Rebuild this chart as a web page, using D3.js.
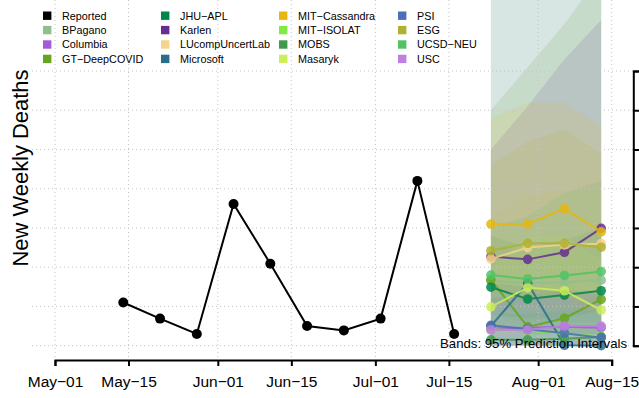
<!DOCTYPE html>
<html><head><meta charset="utf-8">
<script src="https://cdn.jsdelivr.net/npm/d3@7"></script>
<style>body{margin:0;background:#fff}svg{display:block;font-family:"Liberation Sans",Arial,sans-serif}</style>
</head><body><svg id="c" width="639" height="398"></svg>
<script>
// ---- data ----
const reportedDates = ["2022-05-14","2022-05-21","2022-05-28","2022-06-04","2022-06-11","2022-06-18","2022-06-25","2022-07-02","2022-07-09","2022-07-16"];
const reportedValues = [11.0, 6.9, 3.0, 36.1, 20.9, 5.0, 3.9, 6.9, 42.0, 3.0];
const forecastDates = ["2022-07-23","2022-07-30","2022-08-06","2022-08-13"];
const models = ["BPagano","Columbia","GT\u2212DeepCOVID","JHU\u2212APL","Karlen","LUcompUncertLab","Microsoft","MIT\u2212Cassandra","MIT\u2212ISOLAT","MOBS","Masaryk","PSI","ESG","UCSD\u2212NEU","USC"];
const modelColors = ["#8fbf8f","#a55bd8","#66a61e","#00884a","#662e91","#f5d38a","#2b6e8c","#e6b710","#7fec45","#409a4e","#cdee5a","#4a70b6","#afb132","#50c464","#c080e0"];
const medians = [
  [16.5,16.0,16.2,16.7],
  [4.4,4.6,4.8,4.6],
  [16.8,4.8,7.0,11.8],
  [14.9,11.9,12.9,14.0],
  [22.7,22.0,23.8,29.9],
  [22.1,25.0,25.7,26.0],
  [5.0,15.9,0.1,0.0],
  [31.0,31.0,34.9,29.0],
  [4.2,3.8,3.0,2.4],
  [1.5,1.5,1.8,2.2],
  [9.9,14.8,14.0,9.1],
  [5.2,4.2,3.2,2.0],
  [24.2,26.1,26.1,25.1],
  [18.0,17.0,17.9,18.9],
  [4.0,4.0,5.0,5.0]
];
const lowers = [
  [5,4,3,2],[0,0,0,0],[2,0,0,1],[5,3,3,3],[8,7,7,9],[12,12,12,12],[0,0,0,0],
  [14,12,12,8],[0,0,0,0],[0,0,0,0],[2,4,3,1],[0,0,0,0],[10,10,9,8],[8,6,6,6],[0,0,0,0]
];
const uppers = [
  [140,160,180,200],[12,13,14,14],[60,71,82,95],[28,25,27,30],[50,61,73,83],[33,38,40,42],[130,150,170,190],
  [58,62,62,56],[10,10,10,10],[8,8,9,9],[20,28,28,22],[16,15,14,13],[46,52,55,49],[30,33,39,42],[12,12,14,14]
];
const xTickDates = ["2022-05-01","2022-05-15","2022-06-01","2022-06-15","2022-07-01","2022-07-15","2022-08-01","2022-08-15"];
const yTickValues = [0,10,20,30,40,50,60,70];

// ---- drawing ----
const svg = d3.select("#c");
const P = d3.utcParse("%Y-%m-%d");
const x = d3.scaleUtc().domain([P("2022-05-01"), P("2022-08-15")]).range([55, 611.7]);
const y = d3.scaleLinear().domain([0, 70]).range([345.7, 71]);
const plotL = 32, plotR = 633.3, plotB = 360, plotT = 0;

svg.append("defs").append("clipPath").attr("id","clip")
  .append("rect").attr("x",plotL).attr("y",plotT).attr("width",plotR-plotL).attr("height",plotB-plotT);

// bands
const fd = forecastDates.map(P);
const gB = svg.append("g").attr("clip-path","url(#clip)");
const area = d3.area().x(d=>x(d.date)).y0(d=>y(d.lo)).y1(d=>y(d.hi));
models.forEach((m,i)=>{
  const pts = fd.map((d,j)=>({date:d, lo:lowers[i][j], hi:uppers[i][j]}));
  gB.append("path").datum(pts).attr("d",area).attr("fill",modelColors[i]).attr("fill-opacity",0.13);
});

// grid
const gG = svg.append("g").attr("stroke","#c4c4c4").attr("stroke-width",1).attr("stroke-dasharray","1,3");
xTickDates.map(P).forEach(d=>{
  gG.append("line").attr("x1",x(d)).attr("x2",x(d)).attr("y1",plotT).attr("y2",plotB);
});
yTickValues.forEach(v=>{
  gG.append("line").attr("x1",plotL).attr("x2",plotR).attr("y1",y(v)).attr("y2",y(v));
});

// axes
const fmt = d => d3.utcFormat("%b")(d) + "\u2212" + d3.utcFormat("%d")(d);
const xa = svg.append("g").attr("transform",`translate(0,${plotB})`)
  .call(d3.axisBottom(x).tickValues(xTickDates.map(P)).tickFormat(fmt).tickSizeOuter(0).tickSize(6));
xa.select(".domain").attr("stroke","#000").attr("stroke-width",2);
xa.selectAll(".tick line").attr("stroke","#000").attr("stroke-width",2);
xa.selectAll(".tick text").attr("y",22).attr("dy","0.32em").attr("fill","#000")
  .style("font-size","15.5px").style("font-family","'Liberation Sans',Arial,sans-serif");

const ya = svg.append("g").attr("transform",`translate(${plotR},0)`)
  .call(d3.axisRight(y).tickValues(yTickValues).tickFormat("").tickSizeOuter(0).tickSize(8));
ya.select(".domain").attr("stroke","#000").attr("stroke-width",2);
ya.selectAll(".tick line").attr("stroke","#000").attr("stroke-width",2);

// y title
svg.append("text").attr("transform","translate(28,168) rotate(-90)").attr("text-anchor","middle")
  .style("font-size","22.5px").attr("fill","#000").attr("textLength",197).attr("lengthAdjust","spacingAndGlyphs")
  .text("New Weekly Deaths");

// forecast lines
const line = d3.line().x(d=>x(d.date)).y(d=>y(d.v));
const gL = svg.append("g").attr("clip-path","url(#clip)");
models.forEach((m,i)=>{
  const pts = fd.map((d,j)=>({date:d, v:medians[i][j]}));
  const g = gL.append("g").attr("opacity",0.85);
  g.append("path").datum(pts).attr("d",line).attr("fill","none").attr("stroke",modelColors[i]).attr("stroke-width",2);
  g.selectAll("circle").data(pts).join("circle").attr("cx",d=>x(d.date)).attr("cy",d=>y(d.v)).attr("r",4.8).attr("fill",modelColors[i]);
});

// reported
const rp = reportedDates.map((d,i)=>({date:P(d), v:reportedValues[i]}));
svg.append("path").datum(rp).attr("d",line).attr("fill","none").attr("stroke","#000").attr("stroke-width",2);
svg.selectAll("circle.rep").data(rp).join("circle").attr("class","rep")
  .attr("cx",d=>x(d.date)).attr("cy",d=>y(d.v)).attr("r",5).attr("fill","#000");

// note
svg.append("text").attr("x",627).attr("y",348).attr("text-anchor","end").style("font-size","13.2px")
  .attr("fill","#000").text("Bands: 95% Prediction Intervals");

// legend
const legNames = ["Reported"].concat(models);
const legColors = ["#000000"].concat(modelColors);
const colSq = [43,161,279,398];
const rowY = [15.7,30.1,44.5,58.9];
const gLeg = svg.append("g");
legNames.forEach((n,k)=>{
  const c = Math.floor(k/4), r = k%4;
  gLeg.append("rect").attr("x",colSq[c]).attr("y",rowY[r]-4.2).attr("width",8.4).attr("height",8.4).attr("fill",legColors[k]);
  gLeg.append("text").attr("x",colSq[c]+19).attr("y",rowY[r]).attr("dy","0.36em")
    .style("font-size","10.8px").attr("fill","#000").text(n);
});
</script></body></html>
